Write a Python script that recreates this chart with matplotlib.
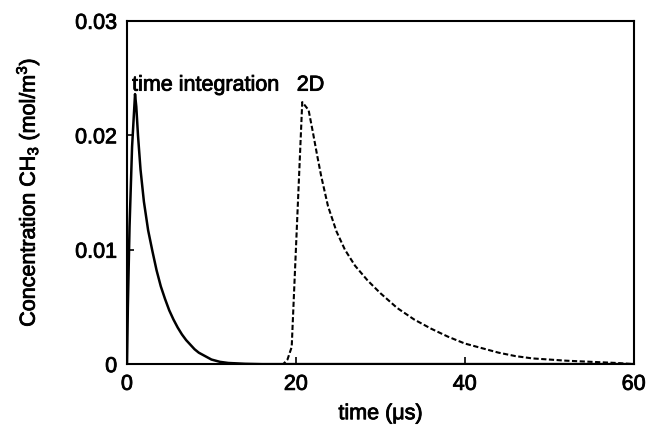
import matplotlib
matplotlib.use("Agg")
import matplotlib.pyplot as plt
import matplotlib.patheffects as pe

plt.rcParams['font.family'] = ['Liberation Sans', 'DejaVu Sans']
plt.rcParams['mathtext.default'] = 'regular'

# time integration (solid)
t_int = [0, 0.1, 0.3, 0.6, 0.95, 1.1, 1.3, 1.6, 2.0, 2.5, 3.0, 3.5, 4.0, 4.5, 5.0, 5.5,
         6.0, 6.5, 7.0, 7.5, 8.0, 8.5, 9.0, 10.0, 11.0, 12.0, 14.0, 16.0, 60.0]
c_int = [0.0, 0.005, 0.012, 0.019, 0.0236, 0.0225, 0.0200, 0.0170, 0.0142, 0.0117, 0.0099,
         0.0082, 0.0068, 0.0057, 0.0047, 0.0039, 0.0032, 0.0026, 0.0021, 0.0017, 0.0013,
         0.0010, 0.0008, 0.0004, 0.0002, 0.0001, 0.00003, 0.0, 0.0]

# 2D (dashed)
t_2d = [0, 18.5, 19.0, 19.5, 20.75, 21.5, 22.0, 22.5, 23.0, 23.8, 24.8, 25.8, 27.0, 28.5,
        30.0, 32.0, 34.0, 36.0, 38.0, 40.0, 42.0, 44.0, 46.0, 48.0, 50.0, 52.0, 55.0,
        58.0, 60.0]
c_2d = [0.0, 0.0, 0.0004, 0.0015, 0.0229, 0.0222, 0.0203, 0.0183, 0.0164, 0.0138, 0.0116,
        0.0100, 0.0086, 0.0073, 0.0062, 0.0049, 0.0039, 0.0031, 0.0024, 0.0018, 0.0014,
        0.0010, 0.0007, 0.0005, 0.0004, 0.0003, 0.0002, 0.0001, 0.0]

x_ticks = [0, 20, 40, 60]
y_ticks = [0, 0.01, 0.02, 0.03]
y_ticklabels = ['0', '0.01', '0.02', '0.03']

thick = [pe.withStroke(linewidth=0.6, foreground='black')]

fig = plt.figure(figsize=(6.48, 4.34), dpi=100)
ax = fig.add_axes([0.196, 0.161, 0.782, 0.791])

ax.plot(t_int, c_int, color='black', lw=1.8)
ax.plot(t_2d, c_2d, color='black', lw=1.5, dashes=(2.5, 1.2))

ax.set_xlim(0, 60)
ax.set_ylim(0, 0.03)
ax.set_xticks(x_ticks)
ax.set_xticklabels([str(v) for v in x_ticks])
ax.set_yticks(y_ticks)
ax.set_yticklabels(y_ticklabels)
ax.tick_params(direction='in', length=5, width=1.2, labelsize=15.5, pad=7,
               top=False, right=False)
for lab in ax.get_xticklabels() + ax.get_yticklabels():
    lab.set_path_effects(thick)
for s in ax.spines.values():
    s.set_linewidth(1.5)

ax.set_xlabel('time (μs)', fontsize=15.5, labelpad=6, path_effects=thick)
ax.set_ylabel('Concentration CH$_3$ (mol/m$^3$)', fontsize=15.5, labelpad=24,
              path_effects=thick)

ax.text(0.6, 0.0239, 'time integration', fontsize=15.5, ha='left', va='baseline',
        path_effects=thick)
ax.text(20.1, 0.0239, '2D', fontsize=15.5, ha='left', va='baseline', path_effects=thick)

fig.savefig('out.png', dpi=100)
